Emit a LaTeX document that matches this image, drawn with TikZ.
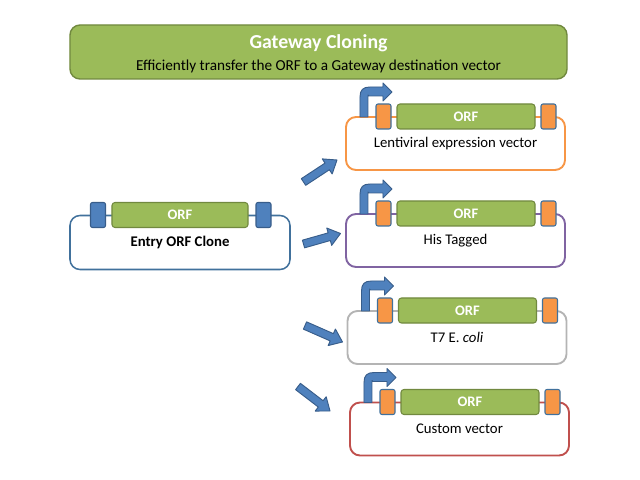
\documentclass[tikz,border=0pt]{standalone}
\usepackage{fontspec}
\setmainfont{Carlito}
\usetikzlibrary{calc}

\definecolor{orfgreen}{HTML}{9BBB59}
\definecolor{orfline}{HTML}{71893F}
\definecolor{siteblue}{HTML}{4F81BD}
\definecolor{siteline}{HTML}{385D8A}
\definecolor{entryline}{HTML}{41719C}
\definecolor{lentiorange}{HTML}{F79646}
\definecolor{hispurple}{HTML}{8064A2}
\definecolor{tsevengray}{HTML}{B4B4B4}
\definecolor{customred}{HTML}{C0504D}

\tikzset{
  vecbox/.style={draw=#1, line width=1.6pt, rounded corners=0.3cm, fill=white,
    minimum width=6.57cm, minimum height=1.59cm, inner sep=0pt, outer sep=0pt,
    font=\fontsize{12.6}{15}\selectfont},
  orfbox/.style={draw=orfline, fill=orfgreen, line width=0.9pt, rounded corners=0.09cm,
    minimum width=4.14cm, minimum height=0.75cm, inner sep=0pt, text=white,
    font=\fontsize{12.4}{15}\selectfont\bfseries},
  sitebox/.style={draw=siteline, fill=#1, line width=0.9pt, rounded corners=0.06cm,
    minimum width=0.45cm, minimum height=0.75cm, inner sep=0pt},
  blockarrow/.style={draw=siteline, fill=siteblue, line width=0.8pt, line join=round},
}

% fat arrow from tail #1 to tip #2
\newcommand\blockarrow[2]{%
  \coordinate (ah) at ($(#2)!10pt!(#1)$);
  \draw[blockarrow] ($(#1)!3.4pt!90:(#2)$) -- ($(ah)!3.4pt!90:(#2)$)
    -- ($(ah)!7.7pt!90:(#2)$) -- (#2) -- ($(ah)!7.7pt!-90:(#2)$)
    -- ($(ah)!3.4pt!-90:(#2)$) -- ($(#1)!3.4pt!-90:(#2)$) -- cycle;
}

\begin{document}
\begin{tikzpicture}[x=0.03cm,y=-0.03cm]
    \useasboundingbox (0,0) rectangle (640,480);

    % Titolo
    \node[draw=orfline, fill=orfgreen, line width=1.2pt, rounded corners=0.3cm,
      minimum width=14.91cm, minimum height=1.62cm] (title) at (318.5,52) {};
    \node[anchor=base, text=white, font=\fontsize{16.9}{20}\selectfont\bfseries]
      (titletext) at (318.5,49) {Gateway Cloning};
    \node[anchor=base, font=\fontsize{13}{16}\selectfont]
      (subtitle) at (318.5,70.7) {Efficiently transfer the ORF to a Gateway destination vector};

    % Clone di ingresso
    \node[vecbox=entryline, line width=1.3pt, minimum width=6.6cm, minimum height=1.62cm,
      font=\fontsize{12.6}{15}\selectfont\bfseries] (entry) at (180,242.5) {\raisebox{-1.5pt}{Entry ORF Clone}};
    \node[orfbox, minimum width=4.08cm] (entry-orf) at ($(entry.north)+(0,-0.5)$) {ORF};
    \node[sitebox=siteblue] (entry-attl) at ($(entry.north)+(-82,-0.5)$) {};
    \node[sitebox=siteblue] (entry-attr) at ($(entry.north)+(83.5,-0.5)$) {};

    % Vettori di destinazione
    \foreach \n/\cx/\cy/\col/\lab in {
        lenti/455.5/143.5/lentiorange/{Lentiviral expression vector},
        his/455.5/240.5/hispurple/{His Tagged},
        tseven/457/337.5/tsevengray/{T7 E. \textit{coli}},
        custom/459.5/429/customred/{Custom vector}} {
        \node[vecbox=\col] (\n) at (\cx,\cy) {\raisebox{-1.5pt}{\lab}};
        \node[orfbox] (\n-orf) at ($(\n.north)+(10.5,-0.5)$) {ORF};
        \node[sitebox=lentiorange, draw=entryline] (\n-attl) at ($(\n.north)+(-72,-0.5)$) {};
        \node[sitebox=lentiorange, draw=entryline] (\n-attr) at ($(\n.north)+(93,-0.5)$) {};
        % promotore
        \draw[blockarrow, shift={(\n.north west)}] (14,0) -- (14,-20)
          .. controls (14,-27) and (17,-30) .. (24,-30) -- (37,-30) -- (37,-34)
          -- (46,-25) -- (37,-16) -- (37,-21) -- (23,-21) -- (22,-22) -- (22,0) -- cycle;
    }

    % Frecce
    \coordinate (lentitail) at (303.5,182);
    \coordinate (lentitip) at (337,160);
    \coordinate (histail) at (303.5,244);
    \coordinate (histip) at (340.5,233.5);
    \coordinate (tseventail) at (305,325.5);
    \coordinate (tseventip) at (342.5,342);
    \coordinate (customtail) at (298,386.5);
    \coordinate (customtip) at (330,411);
    \foreach \n in {lenti,his,tseven,custom} {
        \blockarrow{\n tail}{\n tip}
    }
\end{tikzpicture}
\end{document}
